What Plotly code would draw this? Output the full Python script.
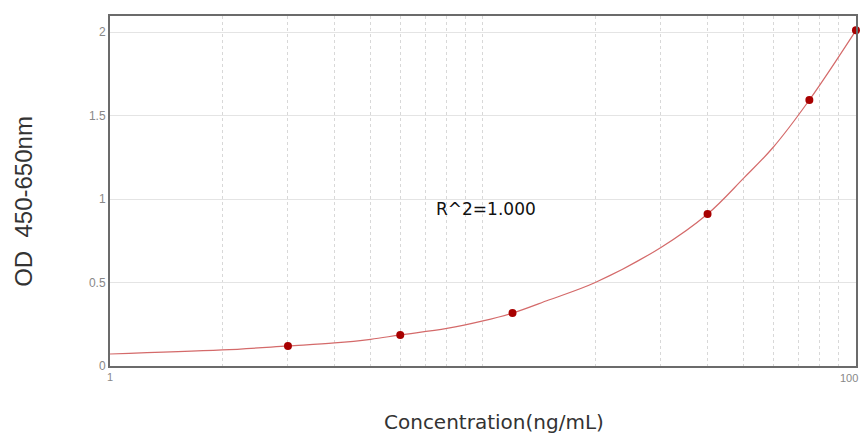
import plotly.graph_objects as go

# Standard points (concentration ng/mL, OD)
conc = [3, 6, 12, 40, 75, 100]
od = [0.12, 0.186, 0.317, 0.91, 1.593, 2.01]

# Fitted curve
curve_x = [1, 2, 3, 4, 5, 6, 8, 10, 12, 15, 20, 30, 40, 50, 60, 75, 100]
curve_y = [0.072, 0.096, 0.12, 0.138, 0.16, 0.186, 0.225, 0.27, 0.317, 0.395, 0.5, 0.71, 0.91, 1.125, 1.31, 1.593, 2.01]

x_grid = [1, 2, 3, 4, 5, 6, 7, 8, 9, 10, 20, 30, 40, 50, 60, 70, 80, 90, 100]
x_labels = ["1"] + [""] * 18
x_end_label = "100"
y_ticks = [0, 0.5, 1, 1.5, 2]
y_labels = ["0", "0.5", "1", "1.5", "2"]

fig = go.Figure()
fig.add_trace(go.Scatter(x=curve_x, y=curve_y, mode="lines",
                         line=dict(color="#D46A6A", width=1.2, shape="spline"),
                         hoverinfo="skip", showlegend=False, cliponaxis=False))
fig.add_trace(go.Scatter(x=conc, y=od, mode="markers",
                         marker=dict(color="#A80000", size=8),
                         showlegend=False, cliponaxis=False))

fig.add_annotation(x=0.434, y=0.45, xref="paper", yref="paper",
                   text="R^2=1.000", showarrow=False, xanchor="left", yanchor="middle",
                   font=dict(family="DejaVu Sans", size=17, color="#111"))
# End tick label of the log axis, kept inside the picture
fig.add_annotation(x=1, y=0, xref="paper", yref="paper", text=x_end_label,
                   showarrow=False, xanchor="right", yanchor="top", xshift=4, yshift=-4,
                   font=dict(family="Liberation Sans", size=11, color="#888"))
# Axis titles
fig.add_annotation(x=0.515, y=-0.201, xref="paper", yref="paper",
                   text="Concentration(ng/mL)", showarrow=False,
                   xanchor="center", yanchor="bottom",
                   font=dict(family="DejaVu Sans", size=20, color="#333"))
fig.add_annotation(x=-0.117, y=0.471, xref="paper", yref="paper",
                   text="OD\u00a0\u00a0450-650nm", showarrow=False, textangle=-90,
                   xanchor="center", yanchor="middle",
                   font=dict(family="Liberation Sans", size=24, color="#333"))

fig.update_layout(
    width=861, height=436,
    margin=dict(l=110, r=5, t=16, b=70),
    paper_bgcolor="white", plot_bgcolor="white",
    xaxis=dict(type="log", range=[0, 2.0001], tickvals=x_grid, ticktext=x_labels,
               showgrid=True, gridcolor="#d8d8d8", griddash="dot", gridwidth=1,
               showline=True, linecolor="#6b6b6b", linewidth=2, mirror=True,
               ticks="", zeroline=False, automargin=False,
               tickfont=dict(family="Liberation Sans", size=11, color="#888")),
    yaxis=dict(range=[0, 2.096], tickvals=y_ticks, ticktext=y_labels,
               showgrid=True, gridcolor="#e4e4e4", gridwidth=1,
               showline=True, linecolor="#6b6b6b", linewidth=2, mirror=True,
               ticks="", zeroline=False, automargin=False,
               tickfont=dict(family="Liberation Sans", size=12, color="#888")),
)

fig.write_html("out.html", post_script="document.body.style.margin='0';",
               config={"displayModeBar": False})
